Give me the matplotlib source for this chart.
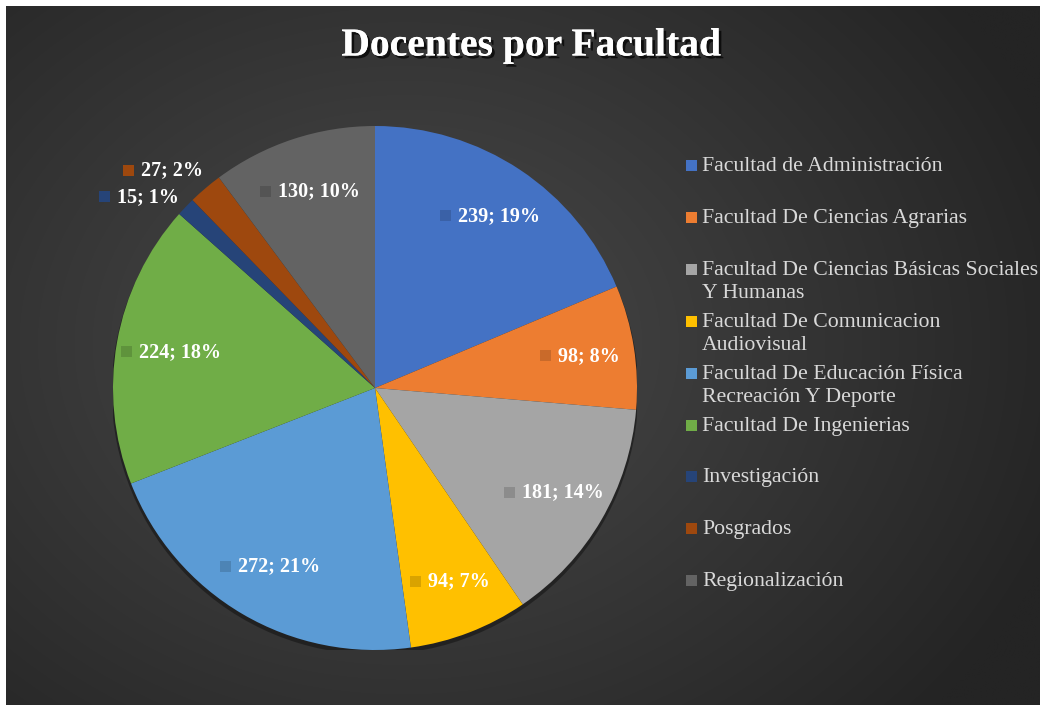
import numpy as np
import matplotlib
matplotlib.use("Agg")
import matplotlib.pyplot as plt
from matplotlib import patheffects as pe
from matplotlib.colors import to_rgb
from matplotlib.patches import Rectangle, Circle
from matplotlib.offsetbox import AnnotationBbox, HPacker, TextArea, DrawingArea

# ---- data ----
categories = [
    "Facultad de Administración",
    "Facultad De Ciencias Agrarias",
    "Facultad De Ciencias Básicas Sociales\nY Humanas",
    "Facultad De Comunicacion\nAudiovisual",
    "Facultad De Educación Física\nRecreación Y Deporte",
    "Facultad De Ingenierias",
    "Investigación",
    "Posgrados",
    "Regionalización",
]
values = [239, 98, 181, 94, 272, 224, 15, 27, 130]
colors = ["#4472C4", "#ED7D31", "#A5A5A5", "#FFC000", "#5B9BD5",
          "#70AD47", "#264478", "#9E480E", "#636363"]
title = "Docentes por Facultad"

# layout overrides for small-slice labels (pie radius units)
label_override = {6: (-0.90, 0.73), 7: (-0.81, 0.83)}

W, H = 1040, 705
fig = plt.figure(figsize=(W / 100, H / 100), dpi=100, facecolor="white")

# background radial gradient
bg = fig.add_axes([6 / W, 0, 1 - 6 / W, 1 - 6 / H])
bg.set_axis_off()
yy, xx = np.mgrid[0:H, 0:W]
d = np.sqrt(((xx - 400) / 700.0) ** 2 + ((yy - 340) / 560.0) ** 2)
d = np.clip(d, 0, 1)
c0 = np.array([0x4a, 0x4a, 0x4a]) / 255
c1 = np.array([0x24, 0x24, 0x24]) / 255
img = c0[None, None, :] * (1 - d[..., None]) + c1[None, None, :] * d[..., None]
bg.imshow(img, aspect="auto", extent=[0, 1, 0, 1], origin="upper")
bg.set_xlim(0, 1)
bg.set_ylim(0, 1)

# pie axes
cx, cy, R = 375, 388, 262
ax = fig.add_axes([(cx - R) / W, (H - cy - R) / H, 2 * R / W, 2 * R / H])
ax.set_axis_off()
ax.add_patch(Circle((0.0, -0.012), 1.005, facecolor="#151515", alpha=0.6, zorder=0))
wedges, _ = ax.pie(values, colors=colors, startangle=90, counterclock=False,
                   radius=1, wedgeprops=dict(linewidth=0, zorder=1))
ax.set_xlim(-1, 1)
ax.set_ylim(-1, 1)

total = sum(values)
for i, (w, v) in enumerate(zip(wedges, values)):
    pct = round(100 * v / total)
    if i in label_override:
        px, py = label_override[i]
        sq = colors[i]
    else:
        ang = np.deg2rad((w.theta1 + w.theta2) / 2)
        px, py = 0.79 * np.cos(ang), 0.79 * np.sin(ang)
        sq = tuple(np.array(to_rgb(colors[i])) * 0.85)
    da = DrawingArea(8, 8, 0, 0)
    da.add_artist(Rectangle((0, 0), 8, 8, facecolor=sq, edgecolor="none"))
    ta = TextArea(f"{v}; {pct}%", textprops=dict(color="white", fontsize=14.5,
                                                  fontweight="bold", family="Liberation Serif"))
    box = HPacker(children=[da, ta], align="center", pad=0, sep=5)
    ab = AnnotationBbox(box, (px, py), frameon=False, box_alignment=(0.5, 0.5),
                        annotation_clip=False, zorder=5)
    ax.add_artist(ab)

# title
fig.text(531 / W, 1 - 46 / H, title, ha="center", va="center", color="white",
         fontsize=28.5, fontweight="bold", family="Liberation Serif",
         path_effects=[pe.withSimplePatchShadow(offset=(2, -2), shadow_rgbFace="black", alpha=0.7),
                       pe.Normal()])

# legend (manual)
y0, dy = 165, 51.9
for i, lab in enumerate(categories):
    y = y0 + i * dy
    fig.patches.append(Rectangle((686 / W, 1 - (y + 6) / H), 11 / W, 11 / H,
                                 transform=fig.transFigure, facecolor=colors[i],
                                 edgecolor="none"))
    fig.text(702 / W, 1 - (y - 8) / H, lab, ha="left", va="top", color="#d9d9d9",
             fontsize=15.7, family="Liberation Serif", linespacing=1.3)

fig.savefig("out.png", dpi=100, facecolor="white")
